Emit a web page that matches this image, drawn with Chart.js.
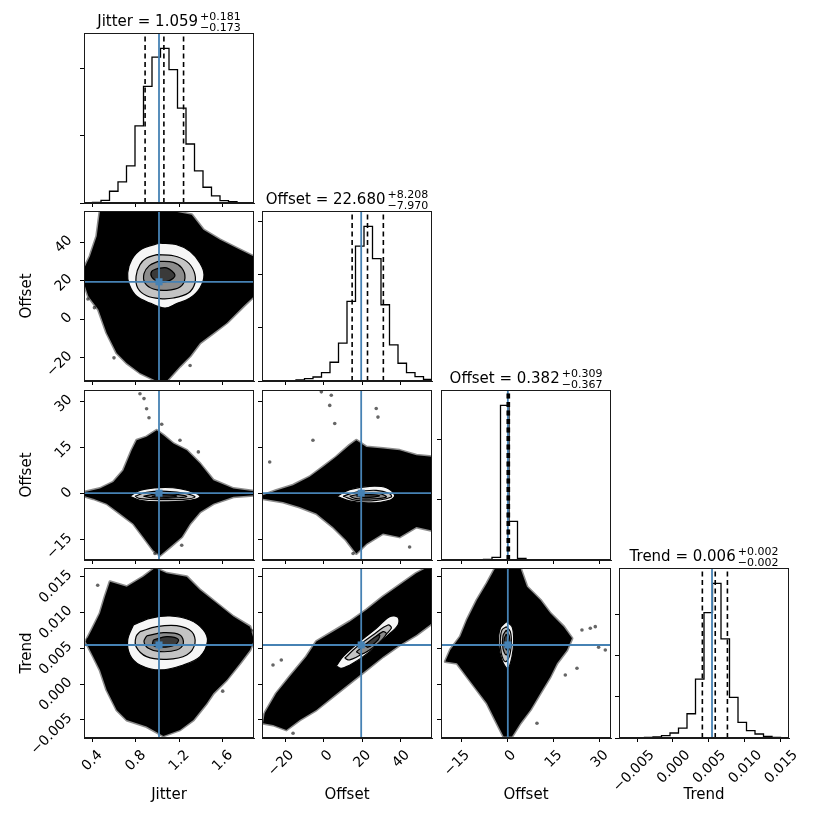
<!DOCTYPE html>
<html><head><meta charset="utf-8">
<script src="https://cdn.jsdelivr.net/npm/chart.js@4.4.1/dist/chart.umd.min.js"></script>
<style>
html,body{margin:0;padding:0;background:#fff;}
#wrap{position:relative;width:823px;height:823px;overflow:hidden;background:#fff;font-family:'DejaVu Sans',sans-serif;}
canvas{position:absolute;}
.ttl{position:absolute;white-space:nowrap;font-size:15px;line-height:20px;color:#000;transform:translateX(-50%);}
.st{display:inline-flex;flex-direction:column;font-size:11px;line-height:10.5px;vertical-align:6px;margin-left:2px;}
</style></head><body><div id="wrap"></div>
<script>
// ---------------- DATA ----------------
const paramNames = ['Jitter', 'Offset', 'Offset', 'Trend'];
const titleMedians = ['1.059', '22.680', '0.382', '0.006'];
const titlePlus = ['0.181', '8.208', '0.309', '0.002'];
const titleMinus = ['0.173', '7.970', '0.367', '0.002'];

const jitterRange = [0.324, 1.888];
const offset1Range = [-32.0, 56.1];
const offset2Range = [-21.5, 33.7];
const trendRange = [-0.00754, 0.0162];

const jitterTicks = [0.4, 0.8, 1.2, 1.6];
const jitterTickLabels = ['0.4', '0.8', '1.2', '1.6'];
const offset1Ticks = [-20, 0, 20, 40];
const offset1TickLabels = ['\u221220', '0', '20', '40'];
const offset2Ticks = [-15, 0, 15, 30];
const offset2TickLabels = ['\u221215', '0', '15', '30'];
const trendTicks = [-0.005, 0.0, 0.005, 0.010, 0.015];
const trendTickLabels = ['\u22120.005', '0.000', '0.005', '0.010', '0.015'];

const jitterHist = [0, 2, 8, 35, 63, 111, 230, 348, 435, 461, 398, 283, 176, 96, 47, 21, 7, 4, 1, 0];
const offset1Hist = [0, 0, 1, 1, 3, 7, 12, 25, 56, 113, 238, 403, 462, 366, 228, 108, 53, 25, 13, 5];
const offset2Hist = [0, 0, 0, 0, 1, 2, 8, 461, 115, 5, 1, 1, 0, 0, 0, 0, 0, 0, 0, 0];
const trendHist = [0, 0, 1, 2, 3, 7, 15, 30, 73, 177, 377, 465, 298, 122, 47, 22, 12, 5, 2, 0];

const jitterHistTicks = [0, 200, 400];
const offset1HistTicks = [0, 158.5, 317, 475.5];
const offset2HistTicks = [0, 180, 360];
const trendHistTicks = [0, 123.5, 247, 370.5];

const jitterQ = [0.886, 1.059, 1.240];
const offset1Q = [14.71, 22.68, 30.888];
const offset2Q = [0.015, 0.382, 0.691];
const trendQ = [0.0041, 0.0059, 0.0076];

const truthValues = [1.014, 19.4, 0.2, 0.00545];

// Jitter vs Offset
const cloudA = [[0.471,56.0],[0.655,56.0],[0.900,56.0],[1.146,56.0],[1.315,54.2],[1.422,46.4],[1.575,41.2],[1.759,36.0],[1.882,32.6],[1.888,27.4],[1.888,11.9],[1.790,6.7],[1.637,-1.9],[1.514,-7.1],[1.391,-12.3],[1.299,-19.2],[1.207,-24.4],[1.085,-32.0],[0.993,-32.0],[0.839,-27.8],[0.716,-22.7],[0.625,-17.5],[0.533,-7.1],[0.456,5.0],[0.364,11.9],[0.333,17.1],[0.333,27.4],[0.379,32.6],[0.441,43.0]];
const outA = [[0.36,10.5],[0.42,6.0],[0.60,-20.0],[1.30,-24.0],[1.80,33.0]];
const levelsA = [
  [[1.023,39.5],[1.177,38.6],[1.299,35.2],[1.391,29.1],[1.428,23.1],[1.391,16.2],[1.299,11.0],[1.177,8.1],[1.069,5.8],[0.931,8.4],[0.809,11.9],[0.741,17.9],[0.726,24.0],[0.763,30.9],[0.855,36.4]],
  [[0.993,33.5],[1.146,32.9],[1.269,30.0],[1.336,24.8],[1.345,18.8],[1.284,13.6],[1.146,11.0],[1.023,10.7],[0.900,12.2],[0.818,16.2],[0.803,22.2],[0.839,28.3],[0.900,31.7]],
  [[1.008,30.0],[1.146,29.5],[1.223,26.6],[1.253,21.4],[1.207,16.7],[1.085,15.0],[0.962,15.7],[0.885,18.8],[0.876,23.6],[0.925,27.8]],
  [[0.993,26.2],[1.085,26.6],[1.161,22.9],[1.109,20.0],[1.008,19.6],[0.947,21.9],[0.947,24.8]]
];
// Jitter vs Offset (2)
const cloudB = [[0.333,0.6],[0.471,1.7],[0.594,3.8],[0.686,7.6],[0.763,14.1],[0.809,17.4],[0.900,18.5],[0.993,20.6],[1.054,19.0],[1.146,16.3],[1.269,14.1],[1.391,9.8],[1.514,4.4],[1.698,1.7],[1.888,0.8],[1.888,-0.5],[1.698,-1.0],[1.514,-3.2],[1.391,-5.9],[1.299,-9.7],[1.223,-14.0],[1.115,-17.3],[1.023,-20.0],[0.962,-18.4],[0.870,-14.0],[0.778,-9.7],[0.655,-6.4],[0.533,-3.2],[0.410,-1.6],[0.333,-0.8]];
const outB = [[0.839,32.5],[0.876,30.9],[0.900,27.6],[0.922,24.7],[1.039,22.6],[1.207,17.4],[1.376,13.6],[0.977,-19.4],[1.223,-16.7]];
const levelsB = [
  [[0.747,-0.81],[0.839,1.13],[1.023,2.0],[1.207,1.67],[1.361,0.05],[1.391,-1.03],[1.299,-2.11],[1.023,-2.65],[0.839,-2.11]],
  [[0.793,-0.81],[0.900,0.49],[1.085,0.81],[1.269,0.05],[1.345,-1.03],[1.238,-1.79],[1.023,-1.9],[0.839,-1.57]],
  [[0.870,-0.81],[0.993,-0.06],[1.177,-0.17],[1.269,-0.92],[1.146,-1.35],[0.962,-1.35]],
  [[0.947,-0.81],[1.054,-0.27],[1.177,-0.71],[1.085,-1.14]]
];
// Jitter vs Trend
const cloudC = [[0.517,0.0122],[0.563,0.01429],[0.717,0.01359],[0.870,0.01499],[0.977,0.0162],[1.085,0.01546],[1.269,0.01499],[1.391,0.01313],[1.545,0.01127],[1.698,0.00941],[1.851,0.00801],[1.888,0.00615],[1.851,0.00475],[1.759,0.00289],[1.637,0.00057],[1.514,-0.0013],[1.453,-0.00269],[1.330,-0.00502],[1.207,-0.00641],[1.054,-0.00725],[0.900,-0.00595],[0.717,-0.00502],[0.625,-0.00362],[0.533,-0.00083],[0.471,0.00196],[0.410,0.00382],[0.339,0.00592],[0.395,0.00755],[0.471,0.00987]];
const outC = [[0.36,0.0062],[0.45,0.0138],[1.60,-0.0010],[1.86,0.0075]];
const levelsC = [
  [[0.778,0.00824],[0.931,0.00917],[1.115,0.0095],[1.299,0.00894],[1.422,0.00755],[1.459,0.00592],[1.391,0.00382],[1.238,0.00266],[1.023,0.00196],[0.839,0.00266],[0.747,0.00406],[0.726,0.00615]],
  [[0.839,0.00731],[0.993,0.00801],[1.177,0.00815],[1.315,0.00731],[1.345,0.00568],[1.269,0.00406],[1.085,0.00345],[0.900,0.00382],[0.803,0.00522],[0.803,0.00662]],
  [[0.900,0.00671],[1.054,0.00717],[1.207,0.00685],[1.238,0.00568],[1.177,0.00475],[1.023,0.00452],[0.916,0.00499],[0.876,0.00592]],
  [[0.962,0.00615],[1.085,0.00662],[1.192,0.00624],[1.161,0.00545],[1.039,0.00513],[0.956,0.00545]]
];
// Offset vs Offset (2)
const cloudD = [[-31.5,-0.5],[-24.6,1.1],[-15.9,2.8],[-7.3,5.5],[-0.4,8.7],[6.5,12.0],[13.4,15.8],[16.9,17.4],[22.1,15.2],[30.7,14.7],[39.3,14.1],[48.0,12.5],[56.1,12.0],[56.1,-11.9],[48.0,-10.8],[39.3,-14.0],[30.7,-12.9],[22.1,-16.2],[16.9,-19.4],[11.7,-15.1],[4.8,-10.8],[-3.8,-6.4],[-12.5,-4.3],[-21.1,-2.7],[-31.5,-1.6]];
const outD = [[-1.25,33.1],[3.9,32.0],[3.1,28.7],[27.2,27.7],[28.1,24.9],[5.7,22.8],[-5.6,17.4],[-28.0,10.3],[15.2,-19.4],[44.5,-17.3]];
const levelsD = [
  [[6.87,-0.81],[13.43,1.35],[23.79,2.43],[32.43,2.0],[36.74,-0.49],[34.15,-2.11],[23.79,-2.98],[13.43,-2.33]],
  [[9.98,-0.81],[16.88,0.59],[27.24,1.13],[34.15,0.05],[35.02,-1.03],[27.24,-2.11],[16.88,-2.11]],
  [[13.43,-0.81],[20.34,0.05],[28.97,0.05],[32.43,-1.03],[25.52,-1.68],[16.88,-1.57]],
  [[16.88,-0.71],[22.06,-0.17],[28.97,-0.6],[22.06,-1.25]]
];
// Offset vs Trend
const cloudE = [[-30.6,-0.00409],[-24.56,-0.0013],[-17.65,0.00103],[-9.02,0.00382],[-3.84,0.00592],[4.80,0.00731],[13.43,0.00871],[22.06,0.01034],[30.70,0.0122],[39.33,0.01383],[47.97,0.01546],[53.15,0.0162],[56.1,0.0162],[56.1,0.00848],[47.97,0.00685],[39.33,0.00545],[30.70,0.00382],[22.06,0.00196],[13.43,0.0001],[4.80,-0.00176],[-3.84,-0.00362],[-12.47,-0.00502],[-19.38,-0.00641],[-26.28,-0.00572],[-31.46,-0.00548]];
const outE = [[-26.3,0.00266],[-22.0,0.00336],[-15.9,-0.00688]];
const levelsE = [
  [[6.52,0.00252],[9.98,0.00382],[18.61,0.00592],[27.24,0.00778],[34.15,0.00941],[38.47,0.00931],[38.47,0.00824],[32.43,0.00662],[23.79,0.00452],[15.16,0.00289],[9.11,0.00219]],
  [[10.84,0.00359],[16.88,0.00513],[25.52,0.00685],[33.29,0.00824],[35.02,0.00778],[28.97,0.00615],[20.34,0.00429],[13.43,0.00336]],
  [[16.88,0.00452],[23.79,0.00592],[30.70,0.00731],[32.43,0.00699],[27.24,0.00545],[19.47,0.00415]],
  [[21.20,0.00545],[26.38,0.00652],[28.97,0.00685],[28.11,0.00615],[22.93,0.00513]]
];
// Offset (2) vs Trend
const cloudF = [[-3.87,0.0162],[4.25,0.0162],[6.42,0.01359],[10.74,0.01173],[13.99,0.00987],[18.32,0.00801],[21.03,0.00638],[19.40,0.00475],[16.16,0.00289],[13.99,0.00103],[10.74,-0.0013],[7.50,-0.00362],[4.25,-0.00548],[1.55,-0.00734],[-1.16,-0.00734],[-3.87,-0.00502],[-6.57,-0.00269],[-9.82,-0.00083],[-13.06,0.00103],[-16.31,0.00289],[-20.10,0.00313],[-18.48,0.00475],[-15.23,0.00662],[-13.06,0.00894],[-9.82,0.01173],[-6.57,0.01406]];
const outF = [[24.27,0.00755],[26.98,0.00778],[28.60,0.00801],[29.68,0.00513],[31.85,0.00475],[22.65,0.00219],[18.86,0.00126],[9.66,-0.00548]];
const levelsF = [
  [[-0.29,0.00871],[1.55,0.00801],[2.09,0.00615],[1.55,0.00382],[0.14,0.00219],[-1.70,0.00336],[-2.78,0.00568],[-2.24,0.00778]],
  [[-0.29,0.00801],[1.01,0.00731],[1.33,0.00568],[0.68,0.00382],[-0.62,0.00312],[-1.92,0.00429],[-2.24,0.00615],[-1.70,0.00755]],
  [[-0.29,0.00755],[0.68,0.00671],[0.79,0.00522],[-0.29,0.00406],[-1.38,0.00499],[-1.38,0.00671]],
  [[-0.29,0.00699],[0.36,0.00615],[-0.08,0.00475],[-0.94,0.00545],[-0.94,0.00638]]
];

// ---------------- BUILD ----------------
const ranges = [jitterRange, offset1Range, offset2Range, trendRange];
const tickVals = [jitterTicks, offset1Ticks, offset2Ticks, trendTicks];
const tickLabs = [jitterTickLabels, offset1TickLabels, offset2TickLabels, trendTickLabels];
const hists = [jitterHist, offset1Hist, offset2Hist, trendHist];
const histTicks = [jitterHistTicks, offset1HistTicks, offset2HistTicks, trendHistTicks];
const quants = [jitterQ, offset1Q, offset2Q, trendQ];

const COLS = [84, 262, 441, 619], ROWS = [33, 211, 390, 568], SIZE = 170;
const X_LABEL_SHIFT = [8, 6.5, 6.5, 15];
const BLUE = '#4682b4';
const LEVEL_FILLS = ['#f6f6f6', '#c4c4c4', '#8c8c8c', '#3a3a3a'];
const wrap = document.getElementById('wrap');

Chart.defaults.font.family = "'DejaVu Sans', sans-serif";
Chart.defaults.font.size = 14;
Chart.defaults.color = '#000';

const framePlugin = {
  id: 'frame',
  afterDraw(chart) {
    const {ctx, chartArea: a} = chart;
    ctx.save();
    ctx.strokeStyle = '#1a1a1a';
    ctx.lineWidth = 1;
    ctx.strokeRect(a.left + 0.5, a.top + 0.5, a.right - a.left - 1, a.bottom - a.top - 1);
    ctx.restore();
  }
};

function makeChart(r, c, datasets, yMin, yMax, yTicks, yLabels) {
  const L = c === 0 ? 66 : 12;
  const B = r === 3 ? 66 : 8;
  const T = 3, R = c === 3 ? 34 : 3;
  const W = SIZE + L + R, H = SIZE + T + B;
  const cv = document.createElement('canvas');
  cv.width = W; cv.height = H;
  cv.style.left = (COLS[c] - L) + 'px';
  cv.style.top = (ROWS[r] - T) + 'px';
  cv.style.width = W + 'px'; cv.style.height = H + 'px';
  wrap.appendChild(cv);
  const showY = c === 0 && r > 0;
  new Chart(cv, {
    type: 'line',
    data: { datasets },
    options: {
      responsive: false, animation: false, devicePixelRatio: 1, events: [],
      layout: { padding: { top: T, right: R, left: 0, bottom: 0 }, autoPadding: false },
      plugins: { legend: { display: false }, tooltip: { enabled: false } },
      scales: {
        x: {
          type: 'linear', position: 'bottom', min: ranges[c][0], max: ranges[c][1],
          afterBuildTicks: s => { s.ticks = tickVals[c].map(v => ({ value: v })); },
          afterFit: s => { s.height = B; s.paddingLeft = 0; s.paddingRight = 0; s.paddingTop = 0; s.paddingBottom = 0; },
          ticks: { display: r === 3, autoSkip: false, minRotation: 45, maxRotation: 45, padding: 5,
                   labelOffset: X_LABEL_SHIFT[c], callback: (v, i) => tickLabs[c][i], color: '#000', font: { size: 14 } },
          grid: { drawOnChartArea: false, drawTicks: true, tickLength: 4, color: '#000', lineWidth: 1 },
          border: { display: true, color: '#1a1a1a', width: 1 },
          title: { display: r === 3, text: paramNames[c], font: { size: 15 }, padding: 0, color: '#000' }
        },
        y: {
          type: 'linear', position: 'left', min: yMin, max: yMax,
          afterBuildTicks: s => { s.ticks = yTicks.map(v => ({ value: v })); },
          afterFit: s => { s.width = L; s.paddingLeft = 0; s.paddingRight = 0; s.paddingTop = 0; s.paddingBottom = 0; },
          ticks: { display: showY, autoSkip: false, minRotation: 45, maxRotation: 45, padding: 10, crossAlign: 'near',
                   labelOffset: -4, callback: (v, i) => (yLabels ? yLabels[i] : ''), color: '#000', font: { size: 14 } },
          grid: { drawOnChartArea: false, drawTicks: true, tickLength: 4, color: '#000', lineWidth: 1 },
          border: { display: true, color: '#1a1a1a', width: 1 },
          title: { display: showY, text: paramNames[r], font: { size: 15 }, padding: 0, color: '#000' }
        }
      }
    },
    plugins: [framePlugin]
  });
}

const pts = arr => arr.map(([x, y]) => ({ x, y }));
const closed = arr => pts(arr.concat([arr[0]]));

function panel2D(r, c, cloud, levels, outliers) {
  const ds = [];
  ds.push({ data: closed(cloud), fill: 'shape', backgroundColor: '#000', borderColor: 'rgba(0,0,0,0.45)',
            borderWidth: 3, borderJoinStyle: 'round', pointRadius: 0, tension: 0, order: 30 });
  ds.push({ data: pts(outliers), showLine: false, pointRadius: 1.8, pointBackgroundColor: 'rgba(0,0,0,0.6)',
            pointBorderWidth: 0, order: 29 });
  levels.forEach((lv, k) => ds.push({ data: closed(lv), fill: 'shape', backgroundColor: LEVEL_FILLS[k],
            borderColor: '#000', borderWidth: 1.2, pointRadius: 0, tension: 0.35, order: 20 - k }));
  const tx = truthValues[c], ty = truthValues[r];
  ds.push({ data: [{ x: tx, y: ranges[r][0] }, { x: tx, y: ranges[r][1] }], borderColor: BLUE, borderWidth: 1.8, pointRadius: 0, order: 3 });
  ds.push({ data: [{ x: ranges[c][0], y: ty }, { x: ranges[c][1], y: ty }], borderColor: BLUE, borderWidth: 1.8, pointRadius: 0, order: 2 });
  ds.push({ data: [{ x: tx, y: ty }], showLine: false, pointStyle: 'rect', pointRadius: 5,
            pointBackgroundColor: BLUE, pointBorderColor: BLUE, pointBorderWidth: 0, order: 1 });
  makeChart(r, c, ds, ranges[r][0], ranges[r][1], tickVals[r], tickLabs[r]);
}

function panelHist(i) {
  const [lo, hi] = ranges[i];
  const counts = hists[i];
  const n = counts.length, w = (hi - lo) / n;
  const top = 1.1 * Math.max(...counts);
  const step = [{ x: lo, y: 0 }];
  counts.forEach((cnt, k) => { step.push({ x: lo + k * w, y: cnt }); step.push({ x: lo + (k + 1) * w, y: cnt }); });
  step.push({ x: hi, y: 0 });
  const ds = [];
  ds.push({ data: step, borderColor: '#000', borderWidth: 1.3, pointRadius: 0, tension: 0, order: 10 });
  ds.push({ data: [{ x: truthValues[i], y: 0 }, { x: truthValues[i], y: top }], borderColor: BLUE, borderWidth: 1.8, pointRadius: 0, order: 5 });
  quants[i].forEach((q, k) => ds.push({ data: [{ x: q, y: 0 }, { x: q, y: top }], borderColor: '#000', borderWidth: 1.6,
            borderDash: [5, 3.5], pointRadius: 0, order: 4 - k }));
  makeChart(i, i, ds, 0, top, histTicks[i], null);
}

panelHist(0); panelHist(1); panelHist(2); panelHist(3);
panel2D(1, 0, cloudA, levelsA, outA);
panel2D(2, 0, cloudB, levelsB, outB);
panel2D(3, 0, cloudC, levelsC, outC);
panel2D(2, 1, cloudD, levelsD, outD);
panel2D(3, 1, cloudE, levelsE, outE);
panel2D(3, 2, cloudF, levelsF, outF);

for (let i = 0; i < 4; i++) {
  const d = document.createElement('div');
  d.className = 'ttl';
  d.style.left = (COLS[i] + SIZE / 2) + 'px';
  d.style.top = (ROWS[i] - 6.5 - 15.2) + 'px';
  d.appendChild(document.createTextNode(paramNames[i] + ' = ' + titleMedians[i]));
  const st = document.createElement('span'); st.className = 'st';
  const sp = document.createElement('span'); sp.textContent = '+' + titlePlus[i];
  const sb = document.createElement('span'); sb.textContent = '\u2212' + titleMinus[i];
  st.appendChild(sp); st.appendChild(sb); d.appendChild(st);
  wrap.appendChild(d);
}
</script></body></html>
